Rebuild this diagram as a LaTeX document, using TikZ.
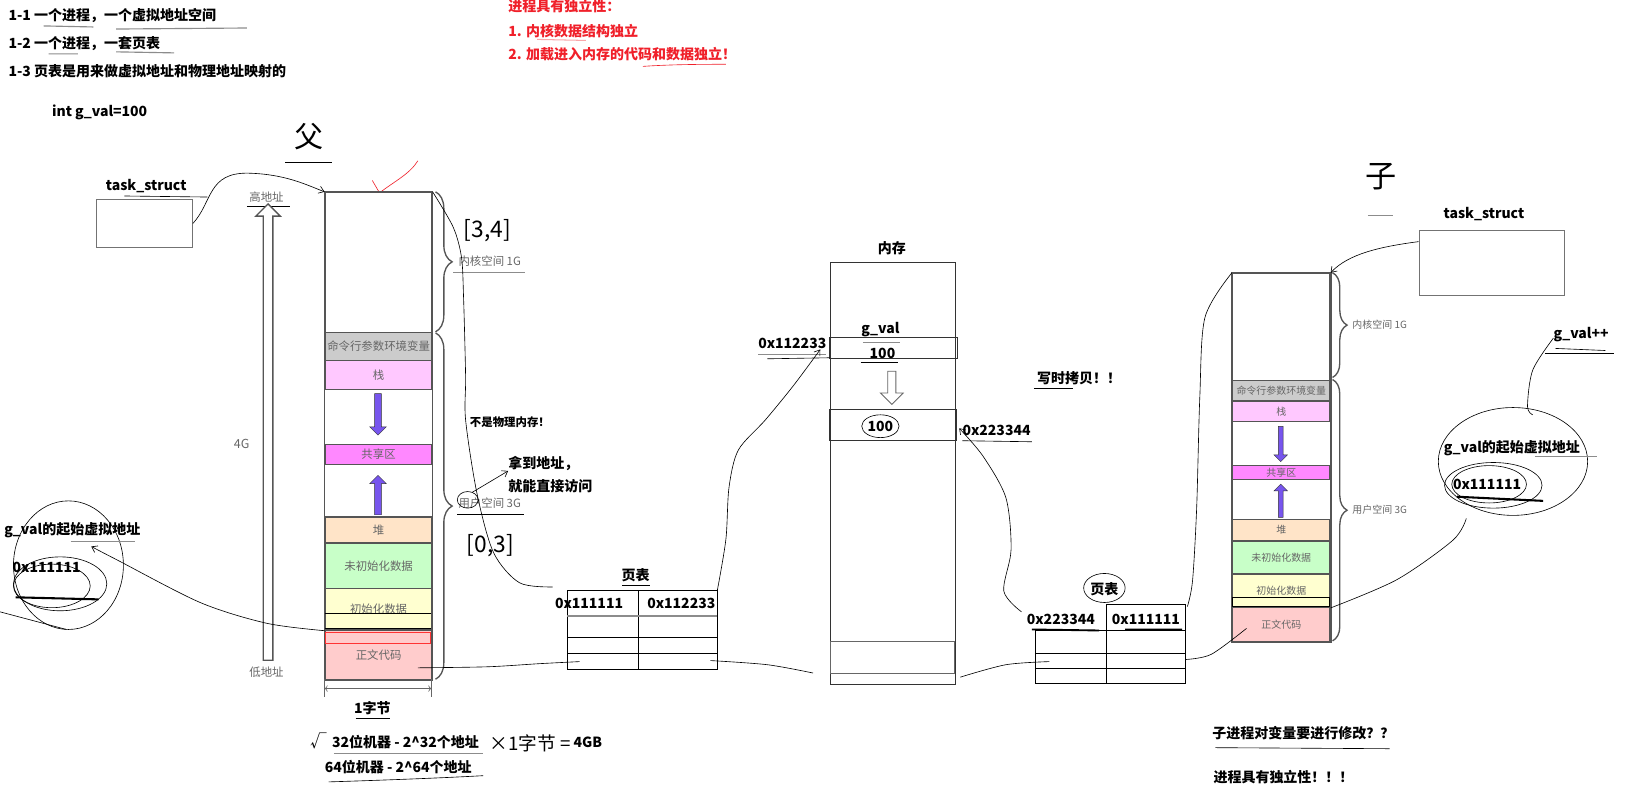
\documentclass[tikz,border=0pt]{standalone}
\usepackage{fontspec}
\setmainfont{Noto Sans CJK SC}
\usetikzlibrary{arrows.meta,shapes.arrows,decorations.pathreplacing,positioning}

\definecolor{segline}{HTML}{555555}
\definecolor{cmdgray}{HTML}{CCCCCC}
\definecolor{stackpink}{HTML}{FFC8FF}
\definecolor{sharemag}{HTML}{FF88FF}
\definecolor{heappeach}{HTML}{FFE4C8}
\definecolor{bssgreen}{HTML}{C8FFC8}
\definecolor{datayellow}{HTML}{FFFFD0}
\definecolor{textpink}{HTML}{FFCCCC}
\definecolor{arrowpurple}{HTML}{7755EE}
\definecolor{notered}{HTML}{F0202A}

\tikzset{
  lbl/.style={font=\bfseries\fontsize{13.5}{16}\selectfont, inner sep=0pt},
  redlbl/.style={lbl, text=notered},
  seg/.style={draw=segline, line width=1.2pt, minimum width=103pt, inner sep=0pt,
    anchor=north west, font=\fontsize{11}{13}\selectfont, text=black!60},
  colframe/.style={draw=segline, line width=1.6pt},
  spacebrace/.style={decorate, decoration={brace, amplitude=16pt}, draw=segline, line width=1.3pt},
  bracelbl/.style={font=\fontsize{11}{13}\selectfont, text=black!60, anchor=west, inner sep=0pt},
  growarrow/.style={single arrow, draw=black!80, fill=arrowpurple, minimum height=40pt,
    minimum width=16pt, inner sep=2.5pt, single arrow head extend=4pt},
  ink/.style={draw=black, line width=0.6pt},
  pencil/.style={draw=black!45, line width=1.1pt},
  inkarrow/.style={ink, -{Straight Barb[length=5pt,width=7pt]}},
  hand/.style={font=\fontsize{28}{30}\selectfont, inner sep=0pt},
  ptcell/.style={draw=black, line width=0.8pt, inner sep=0pt, anchor=north west},
}

\begin{document}
\begin{tikzpicture}[x=1pt, y=-1pt]
\fill[white] (0,0) rectangle (1568,765);
\useasboundingbox (0,0) rectangle (1568,765);

% notes
\node[lbl, anchor=west] (note1) at (8,15) {1-1 一个进程，一个虚拟地址空间};
\node[lbl, anchor=west] (note2) at (8,42) {1-2 一个进程，一套页表};
\node[lbl, anchor=west] (note3) at (8,69) {1-3 页表是用来做虚拟地址和物理地址映射的};
\node[lbl, anchor=west] (gdef) at (50,108) {int g\_val=100};
\draw[pencil] (42,25) -- (90,26) (112,28) -- (238,27) (47,52) -- (75,52) (112,50) -- (168,51);

\node[redlbl, anchor=west] (indep) at (490,6) {进程具有独立性：};
\node[redlbl, anchor=west] (indep1) at (490,30) {1. 内核数据结构独立};
\node[redlbl, anchor=west] (indep2) at (490,52) {2. 加载进入内存的代码和数据独立！};
\draw[notered!40, line width=1pt] (518,38) -- (565,39);
\draw[notered, line width=0.6pt] (620,64) .. controls (650,62) and (680,62) .. (700,62);

% parent process
\node[hand] (father) at (298,132) {父};
\draw[ink] (275,157) -- (320,157);
\draw[notered, line width=0.6pt] (359,174) -- (366,186) .. controls (380,175) and (395,168) .. (403,155);

\node[lbl] (tsLlbl) at (141,179) {task\_struct};
\node[draw=black!55, line width=1pt, minimum width=92pt, minimum height=46pt, anchor=north west] (tsL) at (93,192) {};
\draw[ink] (120,189) -- (200,190);

\node[font=\fontsize{11}{13}\selectfont, text=black!60] (high) at (257,190) {高地址};
\draw[ink] (238,199) -- (280,199);
\node[single arrow, draw=segline, fill=white, line width=1.3pt, rotate=90, minimum height=440pt,
  minimum width=21pt, inner sep=4pt] (addr) at (258.5,419) {};
\node[font=\fontsize{12}{14}\selectfont, text=black!60] (fourg) at (233,428) {4G};
\node[font=\fontsize{11}{13}\selectfont, text=black!60] (low) at (257,648) {低地址};

\foreach \n/\t/\b/\c/\l in {kern/185/320/white/{}, cmd/320/347/cmdgray/命令行参数环境变量,
  stack/347/375/stackpink/栈, share/428/447/sharemag/共享区, heap/498/523/heappeach/堆,
  bss/523/567/bssgreen/未初始化数据, data/567/607/datayellow/初始化数据, text/607/655/textpink/正文代码}
  \node[seg, fill=\c, minimum height={(\b-\t)*1pt}] (L\n) at (313,\t) {\l};
\draw[colframe] (Lkern.north west) rectangle (Ltext.south east);
\node[growarrow, rotate=-90] (Ldown) at (364.5,398) {};
\node[growarrow, rotate=90, minimum height=38pt] (Lup) at (364.5,479) {};
\draw[ink] (313,591) -- (416,591) (313,606) -- (416,606);
\draw[red!80, line width=0.6pt] (314,610) rectangle (415,620);

\draw[spacebrace] (420,185) -- (420,320);
\draw[spacebrace] (420,321) -- (420,655);
\node[bracelbl] (kernL) at (442,252) {内核空间 1G};
\node[bracelbl] (userL) at (442,485) {用户空间 3G};
\draw[pencil] (437,263) -- (506,263);
\draw[ink] (441,496) -- (505,496);
\node[font=\fontsize{22}{24}\selectfont, inner sep=0pt] (r34) at (470,222) {[3,4]};
\node[font=\fontsize{22}{24}\selectfont, inner sep=0pt] (r03) at (473,526) {[0,3]};

\draw[<->, draw=black!60, line width=0.6pt] (313,664) -- (416,664);
\draw[black!60, line width=0.6pt] (313,655) -- (313,672) (416,655) -- (416,672);
\node[lbl] (byte) at (359,683) {1字节};
\draw[ink] (343,693) -- (376,693);
\node[lbl, anchor=west] (bit32) at (320,716) {32位机器 - 2\textasciicircum 32个地址};
\node[lbl, anchor=west] (bit64) at (313,740) {64位机器 - 2\textasciicircum 64个地址};
\node[lbl, anchor=west] (gb) at (553,716) {4GB};
\node[font=\fontsize{16}{18}\selectfont, inner sep=0pt] (tick) at (307,714) {√};
\node[font=\fontsize{18}{20}\selectfont, inner sep=0pt, anchor=west] (times) at (472,717) {×1字节 =};
\draw[pencil] (322,727) -- (466,727);
\draw[ink] (317,754) .. controls (380,752) and (430,750) .. (466,748);

\node[lbl, anchor=west, font=\bfseries\fontsize{11}{13}\selectfont] (notphys) at (453,407) {不是物理内存！};
\node[lbl, anchor=west] (grab) at (490,447) {拿到地址，};
\node[lbl, anchor=west] (grab2) at (490,469) {就能直接访问};
\draw[ink] (451,482) ellipse (10 and 8);
\draw[inkarrow] (455,475) -- (grab.south west);

% left g_val
\node[lbl, anchor=west] (gvL) at (4,511) {g\_val的起始虚拟地址};
\node[lbl, anchor=west] (gvLaddr) at (12,547) {0x111111};
\draw[ink] (66,545) ellipse (53 and 62);
\draw[ink] (58,563) ellipse (45 and 26);
\draw[ink] (50,565) ellipse (37 and 21);
\draw[pencil] (68,522) -- (130,522);
\draw[black, line width=2pt] (15,576) -- (95,578);
\draw[ink] (0,590) -- (64,607);

% page table 1
\node[lbl] (pt1lbl) at (613,555) {页表};
\draw[ink] (600,564) -- (627,564);
\node[ptcell, minimum width=144pt, minimum height=76pt] (PT1) at (547,569) {};
\draw[ink] (616,569) -- (616,645);
\draw[pencil] (547,594) -- (691,594);
\draw[ink] (547,615) -- (691,615) (547,630) -- (691,630);
\node[lbl, anchor=west] (pt1v) at (535,582) {0x111111};
\node[lbl, anchor=west] (pt1p) at (624,582) {0x112233};

% memory
\node[lbl] (memlbl) at (860,239) {内存};
\node[draw=black!80, line width=0.8pt, minimum width=121pt, minimum height=407pt, anchor=north west] (mem) at (800,253) {};
\draw[draw=black!80, line width=0.8pt] (800,325) rectangle (923,346);
\draw[draw=black!80, line width=0.8pt] (800,395) rectangle (922,425);
\draw[draw=black!60, line width=0.8pt] (801,619) rectangle (920,649);
\node[lbl] (gvm) at (849,318) {g\_val};
\node[lbl] (gvm100) at (851,341) {100};
\draw[pencil] (832,330) -- (868,330);
\draw[ink] (830,349) -- (866,349);
\node[single arrow, draw=black!60, fill=white, line width=0.8pt, rotate=-90, minimum height=32pt,
  minimum width=18pt, inner sep=3.5pt] (cow) at (860,372) {};
\node[lbl] (new100) at (849,411) {100};
\draw[ink] (849,411) ellipse (18 and 11);
\node[lbl, anchor=west] (pa1) at (731,331) {0x112233};
\draw[pencil] (731,342) -- (797,342);
\draw[ink] (740,346) -- (800,345);
\node[lbl, anchor=west] (pa2) at (928,415) {0x223344};
\draw[ink] (928,425) -- (995,426);
\node[lbl, anchor=west] (cowlbl) at (1000,365) {写时拷贝！！};
\draw[ink] (997,374) -- (1035,374);

% page table 2
\node[lbl] (pt2lbl) at (1065,568) {页表};
\draw[ink] (1065,567) ellipse (20 and 14);
\node[ptcell, minimum width=145pt, minimum height=51pt] (PT2) at (998,608) {};
\draw[ink] (1067,583) rectangle (1143,608);
\draw[ink] (1067,608) -- (1067,659);
\draw[ink] (998,630) -- (1143,630) (998,644) -- (1143,644);
\draw[black, line width=1.8pt] (995,607) -- (1060,608) (1085,607) -- (1140,607);
\node[lbl, anchor=west] (pt2v) at (990,597) {0x223344};
\node[lbl, anchor=west] (pt2p) at (1072,597) {0x111111};

% child process
\node[hand, font=\fontsize{30}{32}\selectfont] (child) at (1332,170) {子};
\draw[pencil] (1319,208) -- (1343,208);
\node[lbl] (tsRlbl) at (1431,206) {task\_struct};
\node[draw=black!55, line width=1pt, minimum width=140pt, minimum height=62pt, anchor=north west] (tsR) at (1368,222) {};

\foreach \n/\t/\b/\c/\l in {kern/263/366/white/{}, cmd/366/386/cmdgray/命令行参数环境变量,
  stack/386/406/stackpink/栈, share/448/462/sharemag/共享区, heap/500/521/heappeach/堆,
  bss/521/553/bssgreen/未初始化数据, data/553/585/datayellow/初始化数据, text/585/618/textpink/正文代码}
  \node[seg, fill=\c, minimum width=94pt, font=\fontsize{9.6}{11}\selectfont, minimum height={(\b-\t)*1pt}] (R\n) at (1188,\t) {\l};
\draw[colframe] (Rkern.north west) rectangle (Rtext.south east);
\node[growarrow, rotate=-90, minimum height=34pt, minimum width=13pt, inner sep=2pt] (Rdown) at (1235,427) {};
\node[growarrow, rotate=90, minimum height=32pt, minimum width=13pt, inner sep=2pt] (Rup) at (1235,484) {};
\draw[ink] (1188,576) rectangle (1282,585);
\draw[spacebrace, decoration={brace, amplitude=14pt}] (1285,263) -- (1285,364);
\draw[spacebrace, decoration={brace, amplitude=14pt}] (1285,366) -- (1285,618);
\node[bracelbl, font=\fontsize{9.6}{11}\selectfont] (kernR) at (1304,313) {内核空间 1G};
\node[bracelbl, font=\fontsize{9.6}{11}\selectfont] (userR) at (1304,492) {用户空间 3G};

\node[lbl, anchor=west] (gvpp) at (1498,323) {g\_val++};
\draw[ink] (1500,336) -- (1548,338);
\draw[ink] (1490,341) -- (1556,341);
\node[lbl] (gvR) at (1458,432) {g\_val的起始虚拟地址};
\node[lbl, anchor=west] (gvRaddr) at (1401,467) {0x111111};
\draw[ink] (1459,445) ellipse (72 and 52);
\draw[ink] (1440,468) ellipse (47 and 22);
\draw[ink] (1436,467) ellipse (36 and 18);
\draw[pencil] (1480,440) -- (1540,440);
\draw[black, line width=2pt] (1405,479) -- (1488,483);

\node[lbl, anchor=west] (modq) at (1169,707) {子进程对变量要进行修改？？};
\draw[ink] (1172,721) -- (1340,722);
\node[lbl, anchor=west] (indepR) at (1170,749) {进程具有独立性！！！};

% hand drawn links
\draw[inkarrow] (tsL.east) .. controls (205,195) and (200,166) .. (240,167)
  .. controls (275,168) and (295,178) .. (Lkern.north west);
\draw[ink] plot[smooth] coordinates {(Lkern.north east) (437,219) (445,248) (447,286) (449,363)
  (449,405) (460,476) (476,533) (501,562) (533,566)};
\draw[inkarrow] plot[smooth] coordinates {(Ldata.south west) (257,601) (193,581) (113,540) (88,527)};
\draw[ink] plot[smooth] coordinates {(403,644) (470,643) (520,640) (559,638)};
\draw[ink] plot[smooth] coordinates {(685,637) (740,641) (784,649)};
\draw[inkarrow] plot[smooth] coordinates {(PT1.north east) (700,520) (703,470) (712,434) (738,405)
  (765,372) (791,337)};
\draw[inkarrow] plot[smooth] coordinates {(985,590) (968,570) (975,530) (970,480) (948,440) (925,413)};
\draw[ink] plot[smooth] coordinates {(1012,638) (970,641) (926,653)};
\draw[ink] plot[smooth] coordinates {(1143,636) (1168,631) (1202,606)};
\draw[ink] plot[smooth] coordinates {(Rkern.north west) (1162,306) (1157,383) (1154,489)
  (1150,560) (1145,585)};
\draw[inkarrow] (tsR.north west |- 0,233) .. controls (1330,238) and (1300,245) .. (Rkern.north east);
\draw[ink] plot[smooth] coordinates {(1498,326) (1478,357) (1473,392) (1478,400)};
\draw[ink] plot[smooth] coordinates {(1414,500) (1401,521) (1347,559) (Rdata.south east)};
\end{tikzpicture}
\end{document}
